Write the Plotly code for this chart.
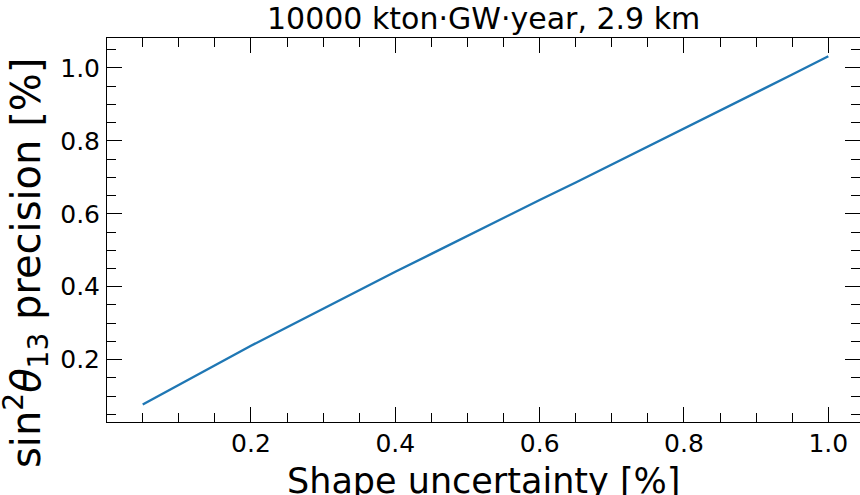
import plotly.graph_objects as go

# Data
shape_uncertainty = [0.05, 0.10, 0.15, 0.20, 0.25, 0.30, 0.35, 0.40, 0.45, 0.50,
                     0.55, 0.60, 0.65, 0.70, 0.75, 0.80, 0.85, 0.90, 0.95, 1.00]
sin2_precision = [0.077, 0.131, 0.185, 0.238, 0.289, 0.340, 0.391, 0.441, 0.490, 0.540,
                  0.589, 0.638, 0.686, 0.735, 0.784, 0.834, 0.884, 0.933, 0.982, 1.032]

title_text = "10000 kton·GW·year, 2.9 km"
x_label = "Shape uncertainty [%]"
y_label = "sin<sup>2</sup><i>θ</i><sub>13</sub> precision [%]"

FONT = "DejaVu Sans"
W, H = 860, 495
L, R, T, B = 107, 0, 38, 73

fig = go.Figure()
fig.add_trace(go.Scatter(
    x=shape_uncertainty, y=sin2_precision, mode="lines",
    line=dict(color="#1f77b4", width=2.4), showlegend=False, hoverinfo="skip"))

axis_common = dict(
    showline=True, linecolor="black", linewidth=1, mirror="ticks",
    ticks="inside", ticklen=15, tickwidth=1, tickcolor="black",
    showgrid=False, zeroline=False, tickformat=".1f",
    tickfont=dict(family=FONT, size=25, color="black"),
    dtick=0.2, tick0=0,
    minor=dict(ticks="inside", ticklen=9, tickwidth=1, tickcolor="black",
               dtick=0.05, tick0=0, showgrid=False),
)

fig.update_xaxes(range=[0.0005, 1.0439], ticklabelstandoff=-1, **axis_common)
fig.update_yaxes(range=[0.029, 1.0822], ticklabelstandoff=1, **axis_common)

pw = W - L - R
ph = H - T - B
base = H - B  # pixel row of the bottom spine


def py(p):
    return (base - p) / ph


def px(p):
    return (p - L) / pw


fig.add_annotation(text=title_text, xref="paper", yref="paper",
                   x=0.5, y=py(18), xanchor="center", yanchor="middle",
                   showarrow=False, font=dict(family=FONT, size=30, color="black"))
fig.add_annotation(text=x_label, xref="paper", yref="paper",
                   x=0.5, y=py(481), xanchor="center", yanchor="middle",
                   showarrow=False, font=dict(family=FONT, size=35, color="black"))
fig.add_annotation(text=y_label, xref="paper", yref="paper", textangle=-90,
                   x=px(26), y=py(263), xanchor="center", yanchor="middle",
                   showarrow=False, font=dict(family=FONT, size=40, color="black"))

fig.update_layout(
    width=W, height=H, margin=dict(l=L, r=R, t=T, b=B),
    paper_bgcolor="white", plot_bgcolor="white",
    font=dict(family=FONT, color="black"),
)

fig.write_html("out.html", config={"displayModeBar": False},
               post_script="document.body.style.margin='0';document.body.style.overflow='hidden';")
